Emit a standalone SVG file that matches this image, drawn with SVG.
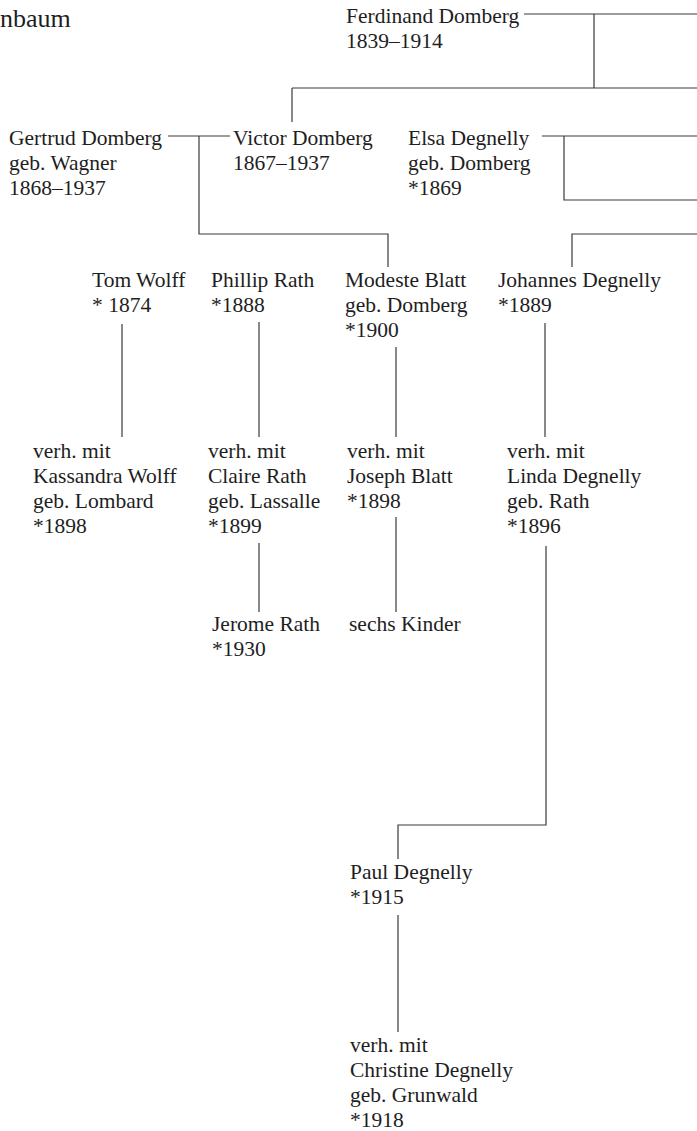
<svg xmlns="http://www.w3.org/2000/svg" width="697" height="1131" viewBox="0 0 697 1131">
<style>
text{font-family:"Liberation Serif","Times New Roman",serif;font-size:21.5px;fill:#1e1e1e}
.title{font-size:26px}
#connectors path{fill:none;stroke:#3a3a3a;stroke-width:1.2}
</style>
<rect width="697" height="1131" fill="#ffffff"/>
<g id="connectors">
<path d="M524 14H697M594 14V88M292 88H697M292 88V122"/>
<path d="M168 136H230M199 136V234H388V267"/>
<path d="M542 136H697M564 136V200H697"/>
<path d="M572 267V234H697"/>
<path d="M122 324V437M259 322V437M396 347V437M545 323V437"/>
<path d="M259 543V612M396 517V612"/>
<path d="M546 546V825H398V859M398 915V1032"/>
</g>
<g id="title"><text class="title" x="0" y="27">nbaum</text></g>
<g id="ferdinand"><text x="346" y="23">Ferdinand Domberg</text><text x="346" y="48">1839–1914</text></g>
<g id="gertrud"><text x="9" y="145">Gertrud Domberg</text><text x="9" y="170">geb. Wagner</text><text x="9" y="195">1868–1937</text></g>
<g id="victor"><text x="233" y="145">Victor Domberg</text><text x="233" y="170">1867–1937</text></g>
<g id="elsa"><text x="408" y="145">Elsa Degnelly</text><text x="408" y="170">geb. Domberg</text><text x="408" y="195">*1869</text></g>
<g id="tom"><text x="92" y="287">Tom Wolff</text><text x="92" y="312">* 1874</text></g>
<g id="phillip"><text x="211" y="287">Phillip Rath</text><text x="211" y="312">*1888</text></g>
<g id="modeste"><text x="345" y="287">Modeste Blatt</text><text x="345" y="312">geb. Domberg</text><text x="345" y="337">*1900</text></g>
<g id="johannes"><text x="498" y="287">Johannes Degnelly</text><text x="498" y="312">*1889</text></g>
<g id="kassandra"><text x="33" y="458">verh. mit</text><text x="33" y="483">Kassandra Wolff</text><text x="33" y="508">geb. Lombard</text><text x="33" y="533">*1898</text></g>
<g id="claire"><text x="208" y="458">verh. mit</text><text x="208" y="483">Claire Rath</text><text x="208" y="508">geb. Lassalle</text><text x="208" y="533">*1899</text></g>
<g id="joseph"><text x="347" y="458">verh. mit</text><text x="347" y="483">Joseph Blatt</text><text x="347" y="508">*1898</text></g>
<g id="linda"><text x="507" y="458">verh. mit</text><text x="507" y="483">Linda Degnelly</text><text x="507" y="508">geb. Rath</text><text x="507" y="533">*1896</text></g>
<g id="jerome"><text x="212" y="631">Jerome Rath</text><text x="212" y="656">*1930</text></g>
<g id="kinder"><text x="349" y="631">sechs Kinder</text></g>
<g id="paul"><text x="350" y="879">Paul Degnelly</text><text x="350" y="904">*1915</text></g>
<g id="christine"><text x="350" y="1052">verh. mit</text><text x="350" y="1077">Christine Degnelly</text><text x="350" y="1102">geb. Grunwald</text><text x="350" y="1127">*1918</text></g>
</svg>
